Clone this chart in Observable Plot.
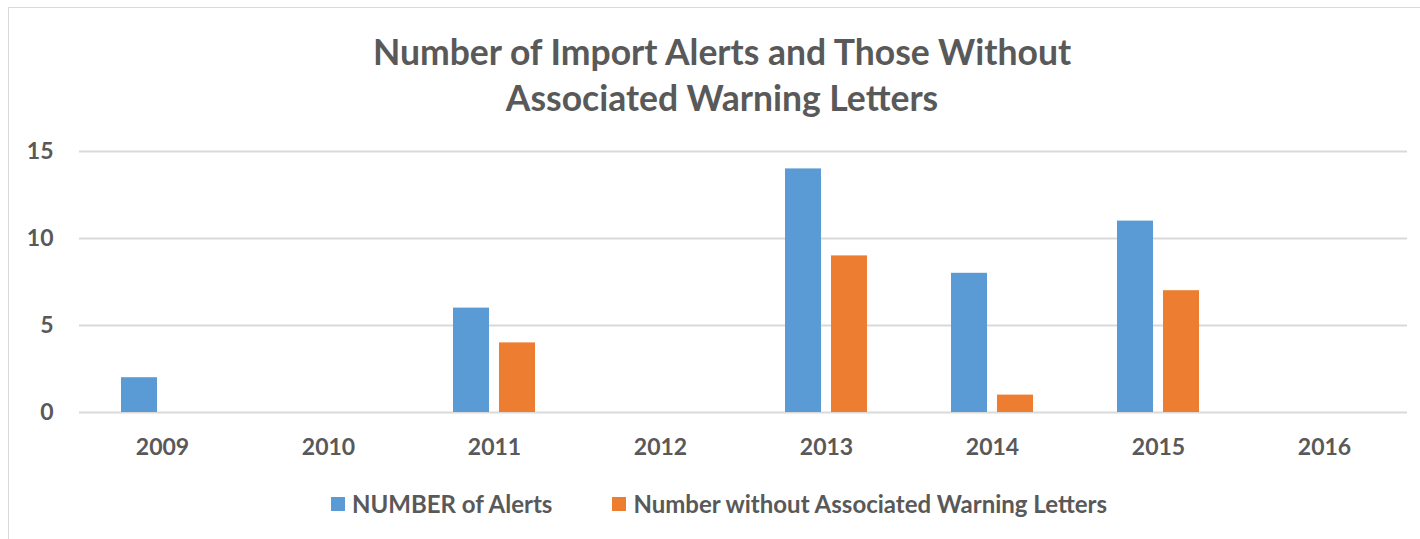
<!DOCTYPE html>
<html><head><meta charset="utf-8">
<script src="https://cdn.jsdelivr.net/npm/d3@7"></script>
<script src="https://cdn.jsdelivr.net/npm/@observablehq/plot@0.6"></script>
<style>
body{margin:0;background:#fff;font-family:Lato,"Open Sans",sans-serif;}
#wrap{position:relative;width:1420px;height:539px;overflow:hidden;}
#frame{position:absolute;left:8px;top:7px;width:1440px;height:560px;border:1px solid #d9d9d9;}
#title{position:absolute;left:0;top:29px;width:1444px;text-align:center;color:#595959;font-weight:bold;font-size:35.5px;line-height:46px;}
#chart{position:absolute;left:0;top:120px;}
#legend{position:absolute;left:331px;top:490px;display:flex;align-items:center;color:#595959;font-weight:bold;font-size:24px;line-height:28px;white-space:nowrap;}
.sw{width:14px;height:14px;display:inline-block;margin-right:7px;}
.item{display:flex;align-items:center;margin-right:60px;}
</style></head>
<body>
<div id="wrap">
<div id="frame"></div>
<div id="title">Number of Import Alerts and Those Without<br>Associated Warning Letters</div>
<div id="chart"></div>
<div id="legend"></div>
</div>
<script>
const years = ["2009","2010","2011","2012","2013","2014","2015","2016"];
const series = ["NUMBER of Alerts","Number without Associated Warning Letters"];
const alerts = [2,0,6,0,14,8,11,0];
const withoutLetters = [0,0,4,0,9,1,7,0];
const yTicks = [0,5,10,15];
const colors = ["#5B9BD5","#ED7D31"];

const data = years.flatMap((yr,i)=>[
  {year:yr, series:series[0], value:alerts[i]},
  {year:yr, series:series[1], value:withoutLetters[i]}
]);

const chart = Plot.plot({
  width:1420, height:350,
  marginLeft:78, marginRight:13, marginTop:31, marginBottom:58,
  style:{fontFamily:'Lato,"Open Sans",sans-serif', fontSize:"23px", fontWeight:"bold", color:"#595959", background:"transparent", overflow:"visible"},
  fx:{domain:years, padding:0, label:null, axis:"bottom", tickSize:0, tickPadding:26},
  x:{domain:series, paddingInner:0.213, paddingOuter:0.873, axis:null},
  y:{domain:[0,15], ticks:yTicks, label:null, tickSize:0, tickPadding:26},
  color:{domain:series, range:colors},
  marks:[
    Plot.gridY(yTicks, {stroke:"#d9d9d9", strokeOpacity:1, strokeWidth:2}),
    Plot.barY(data, {fx:"year", x:"series", y:"value", fill:"series"})
  ]
});
document.getElementById("chart").appendChild(chart);

const leg = document.getElementById("legend");
series.forEach((s,i)=>{
  const it = document.createElement("div"); it.className="item";
  const sw = document.createElement("span"); sw.className="sw"; sw.style.background=colors[i];
  const tx = document.createElement("span"); tx.textContent=s;
  it.appendChild(sw); it.appendChild(tx); leg.appendChild(it);
});
</script>
</body></html>
